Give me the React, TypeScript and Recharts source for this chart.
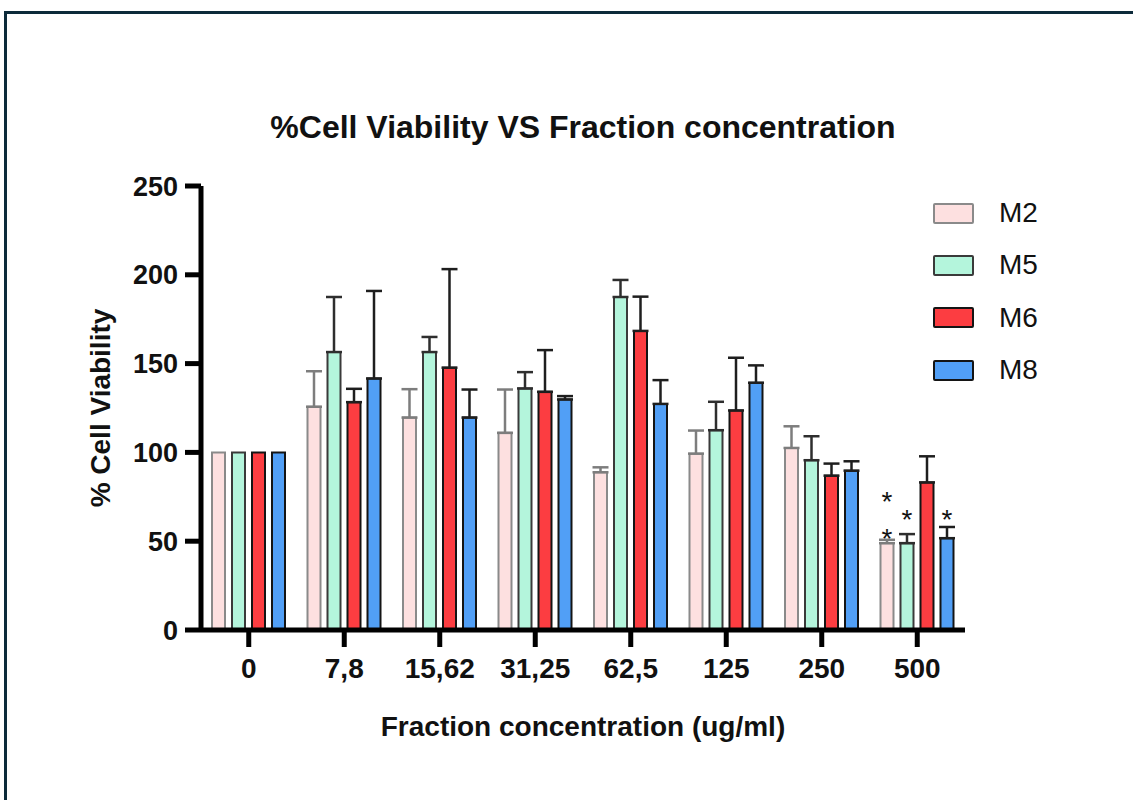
import { BarChart, Bar, XAxis, YAxis, ErrorBar, LabelList, Label } from 'recharts';

// concentrations (ug/ml)
const categories = ['0', '7,8', '15,62', '31,25', '62,5', '125', '250', '500'];

// % cell viability means
const m2 = [100, 125.7, 119.6, 111, 88.8, 99.3, 102.5, 48.9];
const m5 = [100, 156.5, 156.5, 136, 187.5, 112.5, 95.6, 48.9];
const m6 = [100, 128.3, 147.7, 134.1, 168.4, 123.6, 86.9, 83.1];
const m8 = [100, 141.6, 119.6, 129.8, 127.3, 139.2, 89.7, 51.7];

// upper error (SD), null where no bar is drawn
const m2Err = [null, 20, 16, 24.4, 2.8, 13, 12.2, 1.9];
const m5Err = [null, 31, 8.5, 9.2, 9.6, 16, 13.5, 5.1];
const m6Err = [null, 7.5, 55.5, 23.5, 19.3, 29.7, 6.8, 14.7];
const m8Err = [null, 49.3, 15.8, 1.9, 13.4, 9.8, 5.3, 6.3];

// significance marks
const m2Stars = ['', '', '', '', '', '', '', '**'];
const m5Stars = ['', '', '', '', '', '', '', '*'];
const m6Stars = ['', '', '', '', '', '', '', ''];
const m8Stars = ['', '', '', '', '', '', '', '*'];

const yTicks = [0, 50, 100, 150, 200, 250];

const FONT = '"Liberation Sans", Arial, Helvetica, sans-serif';

const toErr = (v: number | null) => (v == null ? null : [0, v]);

const data = categories.map((name, i) => ({
    name,
    M2: m2[i],
    M2err: toErr(m2Err[i]),
    M2star: m2Stars[i],
    M5: m5[i],
    M5err: toErr(m5Err[i]),
    M5star: m5Stars[i],
    M6: m6[i],
    M6err: toErr(m6Err[i]),
    M6star: m6Stars[i],
    M8: m8[i],
    M8err: toErr(m8Err[i]),
    M8star: m8Stars[i],
}));

const series = [
    { key: 'M2', fill: '#fde0e0', stroke: '#8a8a8a', err: '#7d7d7d', starOffsets: [-5, 32] },
    { key: 'M5', fill: '#b4f5dc', stroke: '#3a3a3a', err: '#2e2e2e', starOffsets: [14] },
    { key: 'M6', fill: '#fc3d41', stroke: '#141414', err: '#1e1e1e', starOffsets: [14] },
    { key: 'M8', fill: '#519ff6', stroke: '#141414', err: '#1e1e1e', starOffsets: [9] },
];

const renderStars = (offsets: number[]) => (props: any) => {
    const { x, y, width, value } = props;
    if (!value) return null;
    const cx = Number(x) + Number(width) / 2;
    return (
        <g>
            {String(value)
                .split('')
                .map((s, k) => (
                    <text
                        key={k}
                        x={cx}
                        y={Number(y) - offsets[k]}
                        textAnchor="middle"
                        fontSize={28}
                        fontFamily={FONT}
                        fill="#111"
                    >
                        {s}
                    </text>
                ))}
        </g>
    );
};

const LegendBox = () => (
    <div style={{ position: 'absolute', left: 933, top: 187, fontFamily: FONT }}>
        {series.map((s) => (
            <div key={s.key} style={{ display: 'flex', alignItems: 'center', height: 52.3 }}>
                <div
                    style={{
                        width: 37,
                        height: 17,
                        background: s.fill,
                        border: `2px solid ${s.stroke}`,
                        borderRadius: 2,
                        marginRight: 25,
                    }}
                />
                <span style={{ fontSize: 28, color: '#111' }}>{s.key}</span>
            </div>
        ))}
    </div>
);

export default function App() {
    return (
        <div
            style={{
                position: 'absolute',
                left: 0,
                top: 0,
                width: 1133,
                height: 800,
                background: '#fff',
                overflow: 'hidden',
                fontFamily: FONT,
            }}
        >
            <div
                style={{
                    position: 'absolute',
                    left: 4,
                    top: 11,
                    right: -10,
                    bottom: -10,
                    borderTop: '3px solid #0c2a3a',
                    borderLeft: '3px solid #0c2a3a',
                }}
            />
            <div
                style={{
                    position: 'absolute',
                    left: 201,
                    width: 764,
                    top: 111,
                    textAlign: 'center',
                    fontSize: 32,
                    lineHeight: 1,
                    fontWeight: 'bold',
                    color: '#111',
                    whiteSpace: 'nowrap',
                }}
            >
                %Cell Viability VS Fraction concentration
            </div>
            <div
                style={{
                    position: 'absolute',
                    left: 201,
                    width: 764,
                    top: 713,
                    textAlign: 'center',
                    fontSize: 28,
                    lineHeight: 1,
                    fontWeight: 'bold',
                    color: '#111',
                    whiteSpace: 'nowrap',
                }}
            >
                Fraction concentration (ug/ml)
            </div>
            <BarChart
                width={1133}
                height={800}
                data={data}
                margin={{ top: 186, right: 168, bottom: 110, left: 0 }}
                barSize={13}
                barGap={7}
                style={{ position: 'absolute', left: 0, top: 0 }}
            >
                <XAxis
                    dataKey="name"
                    height={60}
                    axisLine={{ stroke: '#000', strokeWidth: 5 }}
                    tickLine={{ stroke: '#000', strokeWidth: 5 }}
                    tickSize={17}
                    tickMargin={11}
                    tick={{ fill: '#111', fontSize: 28, fontWeight: 'bold', fontFamily: FONT }}
                    interval={0}
                />
                <YAxis
                    width={201}
                    domain={[0, 250]}
                    ticks={yTicks}
                    interval={0}
                    axisLine={{ stroke: '#000', strokeWidth: 5 }}
                    tickLine={{ stroke: '#000', strokeWidth: 5 }}
                    tickSize={16}
                    tickMargin={7}
                    tick={{ fill: '#111', fontSize: 27, fontWeight: 'bold', fontFamily: FONT }}
                >
                    <Label
                        value="% Cell Viability"
                        angle={-90}
                        position="center"
                        style={{ fill: '#111', fontSize: 28, fontWeight: 'bold', fontFamily: FONT }}
                    />
                </YAxis>
                {series.map((s) => (
                    <Bar
                        key={s.key}
                        dataKey={s.key}
                        name={s.key}
                        fill={s.fill}
                        stroke={s.stroke}
                        strokeWidth={2}
                        isAnimationActive={false}
                    >
                        <ErrorBar
                            dataKey={`${s.key}err`}
                            direction="y"
                            width={8}
                            stroke={s.err}
                            strokeWidth={2.5}
                            isAnimationActive={false}
                        />
                        <LabelList dataKey={`${s.key}star`} content={renderStars(s.starOffsets)} />
                    </Bar>
                ))}
            </BarChart>
            <LegendBox />
        </div>
    );
}
